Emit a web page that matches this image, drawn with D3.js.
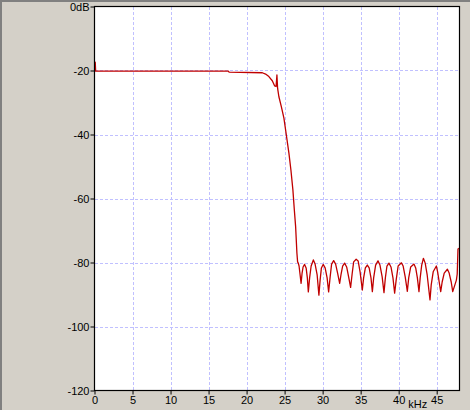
<!DOCTYPE html>
<html>
<head>
<meta charset="utf-8">
<script src="https://cdn.jsdelivr.net/npm/d3@7"></script>
<style>
  html, body { margin: 0; padding: 0; background: #d4d0c8; }
  svg { display: block; }
  text { font-family: "Liberation Sans", Arial, sans-serif; font-size: 11px; fill: #000; }
</style>
</head>
<body>
<svg id="chart" width="470" height="410"></svg>
<script>
// tick values
const freqTicks = [0, 5, 10, 15, 20, 25, 30, 35, 40, 45];
const levelTicks = [0, -20, -40, -60, -80, -100, -120];

// response, [kHz, dB]
const passband = [
  [0, -17.2], [0.1, -17.5], [0.15, -20.2], [17.6, -20.2], [17.7, -20.5],
  [22.07, -20.7], [22.5, -21.1], [22.93, -21.9], [23.38, -23.2], [23.68, -24.8],
  [23.88, -25.0], [23.99, -21.4], [24.08, -25.6]
];
const transition = [
  [24.25, -28.2], [24.57, -31.3], [24.91, -34.9], [25.26, -40.7], [25.57, -45.9],
  [25.83, -51.1], [26.09, -57.3], [26.28, -63.6], [26.45, -68.8], [26.62, -77.1],
  [26.71, -79.8], [26.8, -80.2], [26.9, -81.1], [27.04, -83.9]
];
const stopband = [
  [27.17, -86.5], [27.3, -83.3], [27.43, -81.4], [27.63, -80.6], [27.83, -81.7],
  [27.99, -84.8], [28.12, -89.2], [28.29, -84.8], [28.49, -81.1], [28.78, -79.2],
  [29.01, -80.5], [29.28, -83.9], [29.51, -90.2], [29.67, -85.5], [29.84, -81.7],
  [30.07, -80.6], [30.33, -81.7], [30.59, -84.8], [30.79, -89.2], [30.99, -84.5],
  [31.18, -80.5], [31.45, -79.4], [31.71, -80.5], [31.97, -83.3], [32.24, -86.5],
  [32.43, -83.6], [32.63, -81.1], [32.89, -80.2], [33.16, -81.4], [33.42, -84.5],
  [33.68, -87.8], [33.88, -83.6], [34.08, -79.8], [34.41, -79.0], [34.67, -79.5],
  [34.93, -83.0], [35.22, -88.6], [35.39, -84.8], [35.62, -81.7], [35.88, -80.8],
  [36.12, -81.7], [36.36, -84.8], [36.54, -89.1], [36.71, -84.8], [36.97, -80.8],
  [37.28, -79.5], [37.54, -80.8], [37.83, -84.5], [38.07, -89.4], [38.25, -84.8],
  [38.46, -81.1], [38.72, -80.2], [38.99, -81.4], [39.25, -84.8], [39.47, -89.6],
  [39.67, -85.5], [39.93, -81.1], [40.36, -80.1], [40.59, -81.1], [40.86, -84.5],
  [41.14, -89.0], [41.32, -84.8], [41.58, -81.4], [42.01, -80.5], [42.24, -81.7],
  [42.46, -84.8], [42.67, -89.1], [42.83, -84.8], [43.03, -80.8], [43.25, -78.7],
  [43.49, -80.2], [43.75, -83.9], [44.12, -91.7], [44.28, -87.0], [44.54, -82.9],
  [44.96, -81.1], [45.13, -83.0], [45.33, -86.1], [45.53, -89.1], [45.72, -86.1],
  [45.99, -83.3], [46.41, -82.1], [46.64, -83.3], [46.91, -86.1], [47.11, -89.1],
  [47.59, -85.5], [47.70, -83.6], [47.80, -75.9], [47.89, -75.5]
];

const plotL = 94.5, plotR = 459.5, plotT = 6.5, plotB = 390.5;

const svg = d3.select("#chart");

// sunken window frame
svg.append("line").attr("x1", 0).attr("x2", 470).attr("y1", 1).attr("y2", 1)
  .attr("stroke", "#808080").attr("stroke-width", 2);
svg.append("line").attr("x1", 1).attr("x2", 1).attr("y1", 0).attr("y2", 410)
  .attr("stroke", "#808080").attr("stroke-width", 2);

const x = d3.scaleLinear().domain([0, 48]).range([plotL, plotR]);
const y = d3.scaleLinear().domain([0, -120]).range([plotT, plotB]);

svg.append("rect")
  .attr("x", plotL).attr("y", plotT)
  .attr("width", plotR - plotL).attr("height", plotB - plotT)
  .attr("fill", "#fff");

// grid
const grid = svg.append("g")
  .attr("stroke", "#c0c0ff").attr("stroke-dasharray", "3,2")
  .attr("shape-rendering", "crispEdges");
grid.selectAll(".vg").data(freqTicks.filter(d => d > 0)).join("line")
  .attr("x1", d => Math.round(x(d)) + 0.5).attr("x2", d => Math.round(x(d)) + 0.5)
  .attr("y1", plotT).attr("y2", plotB);
grid.selectAll(".hg").data(levelTicks.filter(d => d < 0 && d > -120)).join("line")
  .attr("y1", d => Math.round(y(d)) + 0.5).attr("y2", d => Math.round(y(d)) + 0.5)
  .attr("x1", plotL).attr("x2", plotR);

// curve
const line = d3.line().x(d => x(d[0])).y(d => y(d[1]));
svg.append("path")
  .datum(passband.concat(transition, stopband))
  .attr("d", line)
  .attr("fill", "none")
  .attr("stroke", "#c00000")
  .attr("stroke-width", 1.3)
  .attr("stroke-linejoin", "round");

// frame
svg.append("rect")
  .attr("x", plotL).attr("y", plotT)
  .attr("width", plotR - plotL).attr("height", plotB - plotT)
  .attr("fill", "none").attr("stroke", "#000").attr("stroke-width", 1.2);

// axes
const yAxis = d3.axisLeft(y).tickValues(levelTicks).tickSize(4).tickPadding(1)
  .tickFormat(d => d === 0 ? "0dB" : d);
const gy = svg.append("g").attr("transform", `translate(${plotL},0)`).call(yAxis);
gy.select(".domain").remove();

const xAxis = d3.axisBottom(x).tickValues(freqTicks).tickSize(4).tickPadding(2);
const gx = svg.append("g").attr("transform", `translate(0,${plotB})`).call(xAxis);
gx.select(".domain").remove();

svg.selectAll(".tick line").attr("stroke", "#000");
svg.selectAll(".tick text").attr("font-family", "Liberation Sans, Arial, sans-serif")
  .attr("font-size", 11).attr("fill", "#000");

svg.append("text")
  .attr("x", x(42.5)).attr("y", 407.5)
  .attr("text-anchor", "middle")
  .text("kHz");
</script>
</body>
</html>
